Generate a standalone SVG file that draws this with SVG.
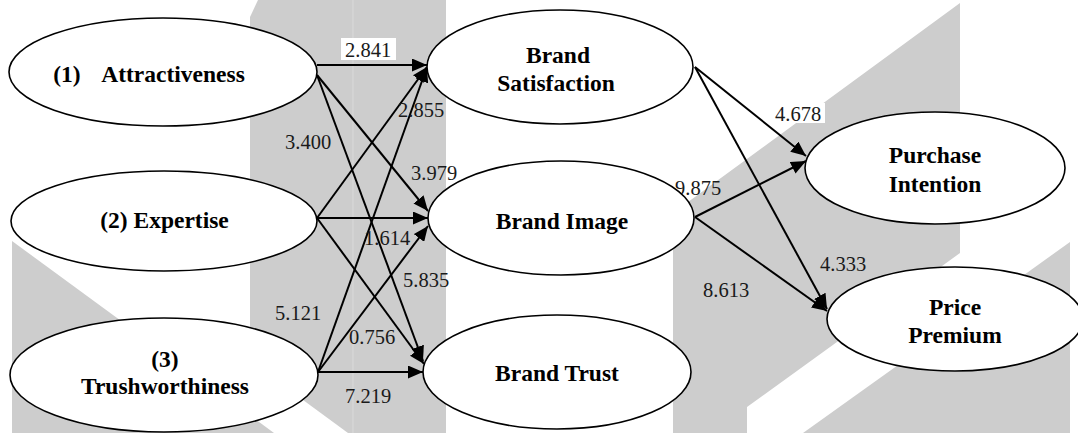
<svg xmlns="http://www.w3.org/2000/svg" width="1078" height="433" viewBox="0 0 1078 433">
  <defs>
    <marker id="arrow" markerUnits="userSpaceOnUse" markerWidth="16" markerHeight="13" refX="15" refY="6.5" orient="auto">
      <path d="M0,0 L15,6.5 L0,13 Z" fill="#000000" stroke="none"/>
    </marker>
  </defs>

  <rect width="1078" height="433" fill="#ffffff"/>

  <!-- grey backdrop shapes -->
  <g id="backdrop" fill="#cdcdcd" stroke="none">
    <polygon points="258,0 446,0 446,433 348,433 250,361 250,17"/>
    <line x1="353" y1="0" x2="353" y2="433" stroke="#dadada" stroke-width="1"/>
    <polygon points="12,241 274,433 12,433"/>
    <polygon points="960,3 960,253 747,407 747,433 673,433 673,213"/>
    <polygon points="1070,242 1070,433 803,433"/>
  </g>

  <!-- path connectors -->
  <g id="connectors" stroke="#000000" stroke-width="2" fill="none" marker-end="url(#arrow)">
    <line x1="317" y1="65" x2="427" y2="65"/>
    <line x1="317" y1="75" x2="428" y2="211"/>
    <line x1="317" y1="75" x2="423" y2="361"/>
    <line x1="317" y1="218" x2="427" y2="67"/>
    <line x1="317" y1="218" x2="428" y2="218"/>
    <line x1="317" y1="218" x2="424" y2="364"/>
    <line x1="318" y1="372" x2="427" y2="67"/>
    <line x1="318" y1="372" x2="428" y2="226"/>
    <line x1="318" y1="372" x2="423" y2="372"/>
    <line x1="695" y1="67" x2="806" y2="156"/>
    <line x1="695" y1="67" x2="827" y2="309"/>
    <line x1="695" y1="217" x2="806" y2="161"/>
    <line x1="695" y1="217" x2="827" y2="311"/>
  </g>

  <!-- path coefficients -->
  <g id="coefficients" fill="#1a1a1a">
    <rect x="341" y="38" width="55" height="22" fill="#ffffff"/>
    <text font-family="Liberation Serif" font-size="20.5" x="345" y="57">2.841</text>
    <text font-family="Liberation Serif" font-size="20.5" x="398" y="117">2.855</text>
    <text font-family="Liberation Serif" font-size="20.5" x="285" y="149">3.400</text>
    <text font-family="Liberation Serif" font-size="20.5" x="411" y="180">3.979</text>
    <text font-family="Liberation Serif" font-size="20.5" x="364" y="245">1.614</text>
    <text font-family="Liberation Serif" font-size="20.5" x="403" y="287">5.835</text>
    <text font-family="Liberation Serif" font-size="20.5" x="275" y="320">5.121</text>
    <text font-family="Liberation Serif" font-size="20.5" x="349" y="344">0.756</text>
    <text font-family="Liberation Serif" font-size="20.5" x="345" y="403">7.219</text>
    <rect x="773" y="103" width="52" height="20" fill="#ffffff"/>
    <text font-family="Liberation Serif" font-size="20.5" x="775" y="121">4.678</text>
    <text font-family="Liberation Serif" font-size="20.5" x="675" y="195">9.875</text>
    <text font-family="Liberation Serif" font-size="20.5" x="820" y="271">4.333</text>
    <text font-family="Liberation Serif" font-size="20.5" x="703" y="297">8.613</text>
  </g>

  <g id="nodes" fill="#000000">
    <g id="attractiveness">
      <ellipse cx="163" cy="72" rx="154" ry="54" fill="#ffffff" stroke="#000000" stroke-width="1.6"/>
      <text font-family="Liberation Serif" font-weight="bold" font-size="23.5" text-anchor="middle" y="82"><tspan x="67">(1)</tspan><tspan x="173">Attractiveness</tspan></text>
    </g>
    <g id="expertise">
      <ellipse cx="164" cy="221" rx="153" ry="50" fill="#ffffff" stroke="#000000" stroke-width="1.6"/>
      <text font-family="Liberation Serif" font-weight="bold" font-size="23.5" text-anchor="middle" x="164.5" y="228">(2) Expertise</text>
    </g>
    <g id="trustworthiness">
      <ellipse cx="164" cy="375" rx="154" ry="57" fill="#ffffff" stroke="#000000" stroke-width="1.6"/>
      <text font-family="Liberation Serif" font-weight="bold" font-size="23.5" text-anchor="middle" x="165" y="367">(3)</text>
      <text font-family="Liberation Serif" font-weight="bold" font-size="23.5" text-anchor="middle" x="165" y="394">Trushworthiness</text>
    </g>
    <g id="brand-satisfaction">
      <ellipse cx="560" cy="67" rx="133" ry="57" fill="#ffffff" stroke="#000000" stroke-width="1.6"/>
      <text font-family="Liberation Serif" font-weight="bold" font-size="23.5" text-anchor="middle" x="558" y="63">Brand</text>
      <text font-family="Liberation Serif" font-weight="bold" font-size="23.5" text-anchor="middle" x="556" y="91">Satisfaction</text>
    </g>
    <g id="brand-image">
      <ellipse cx="561" cy="218" rx="133" ry="57" fill="#ffffff" stroke="#000000" stroke-width="1.6"/>
      <text font-family="Liberation Serif" font-weight="bold" font-size="23.5" text-anchor="middle" x="562" y="229">Brand Image</text>
    </g>
    <g id="brand-trust">
      <ellipse cx="557" cy="372" rx="134" ry="57" fill="#ffffff" stroke="#000000" stroke-width="1.6"/>
      <text font-family="Liberation Serif" font-weight="bold" font-size="23.5" text-anchor="middle" x="557" y="381">Brand Trust</text>
    </g>
    <g id="purchase-intention">
      <ellipse cx="935" cy="168" rx="130" ry="56" fill="#ffffff" stroke="#000000" stroke-width="1.6"/>
      <text font-family="Liberation Serif" font-weight="bold" font-size="23.5" text-anchor="middle" x="935" y="163">Purchase</text>
      <text font-family="Liberation Serif" font-weight="bold" font-size="23.5" text-anchor="middle" x="935" y="192">Intention</text>
    </g>
    <g id="price-premium">
      <ellipse cx="955" cy="319" rx="128" ry="52" fill="#ffffff" stroke="#000000" stroke-width="1.6"/>
      <text font-family="Liberation Serif" font-weight="bold" font-size="23.5" text-anchor="middle" x="955" y="315">Price</text>
      <text font-family="Liberation Serif" font-weight="bold" font-size="23.5" text-anchor="middle" x="955" y="343">Premium</text>
    </g>
  </g>
</svg>
